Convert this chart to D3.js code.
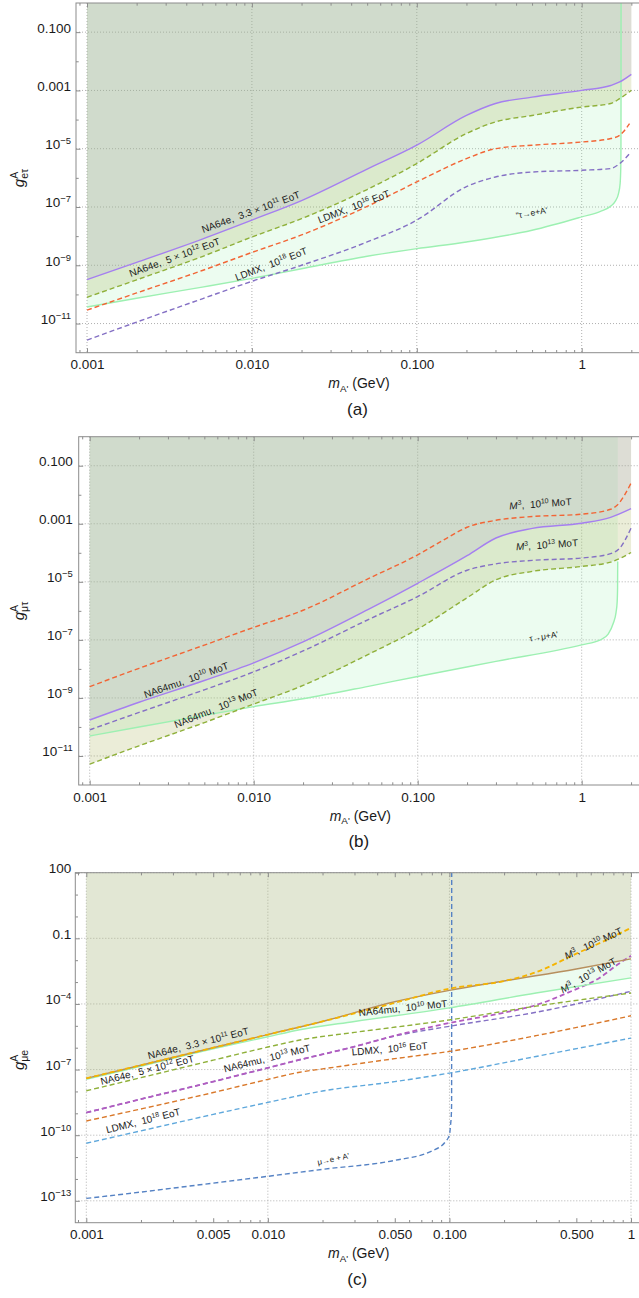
<!DOCTYPE html>
<html>
<head>
<meta charset="utf-8">
<script src="https://cdn.jsdelivr.net/npm/d3@7"></script>
<style>
body { margin: 0; background: #fff; }
svg { display: block; font-family: "Liberation Sans", Arial, sans-serif; }
text { white-space: pre; }
</style>
</head>
<body>
<script>
let W = 639;
let H = 1298;

// every curve: [mass m_A' in GeV, log10 of the coupling]

// panel (a), g_{e tau}
let aNA64e11 = [[0.001,-9.49],[0.002,-8.9],[0.005,-8.1],[0.01,-7.45],[0.02,-6.78],[0.05,-5.7],[0.1,-4.88],[0.2,-3.86],[0.3,-3.45],[0.5,-3.23],[1,-3.0],[1.5,-2.83],[1.7,-2.71],[2,-2.45]];
let aNA64e12 = [[0.001,-10.1],[0.002,-9.5],[0.005,-8.7],[0.01,-8.03],[0.02,-7.4],[0.05,-6.4],[0.1,-5.51],[0.2,-4.48],[0.3,-4.08],[0.5,-3.86],[1,-3.57],[1.5,-3.45],[1.7,-3.28],[2,-3.0]];
let aLDMX16 = [[0.001,-10.54],[0.002,-9.95],[0.005,-9.18],[0.01,-8.56],[0.02,-7.96],[0.05,-6.98],[0.1,-6.14],[0.2,-5.34],[0.3,-5.0],[0.5,-4.88],[1,-4.77],[1.5,-4.65],[1.7,-4.54],[1.95,-4.14]];
let aLDMX18 = [[0.001,-11.57],[0.002,-10.95],[0.005,-10.15],[0.01,-9.55],[0.02,-9.0],[0.05,-8.2],[0.1,-7.45],[0.2,-6.3],[0.3,-5.97],[0.5,-5.8],[1,-5.74],[1.5,-5.68],[1.7,-5.51],[1.95,-5.17]];
let aTauE = [[0.001,-10.43],[0.002,-10.13],[0.005,-9.75],[0.01,-9.45],[0.02,-9.12],[0.05,-8.69],[0.1,-8.43],[0.2,-8.2],[0.5,-7.8],[1,-7.34],[1.3,-7.15],[1.5,-6.97],[1.6,-6.8],[1.67,-6.55],[1.71,-6.2],[1.725,-5.7],[1.73,-5.0],[1.732,-3.0],[1.733,0]];

// panel (b), g_{mu tau}
let bM3_10 = [[0.001,-8.61],[0.002,-7.98],[0.005,-7.18],[0.01,-6.57],[0.02,-5.98],[0.05,-4.89],[0.1,-4.07],[0.15,-3.5],[0.2,-3.12],[0.3,-2.88],[0.5,-2.75],[1,-2.67],[1.5,-2.5],[1.65,-2.35],[2,-1.6]];
let bNA64mu10 = [[0.001,-9.76],[0.002,-9.15],[0.005,-8.4],[0.01,-7.79],[0.02,-7.07],[0.05,-5.95],[0.1,-5.05],[0.2,-4.1],[0.3,-3.49],[0.5,-3.16],[1,-2.98],[1.5,-2.78],[2,-2.48]];
let bM3_13 = [[0.001,-10.1],[0.002,-9.5],[0.005,-8.72],[0.01,-8.1],[0.02,-7.38],[0.05,-6.3],[0.1,-5.51],[0.2,-4.6],[0.3,-4.38],[0.5,-4.26],[1,-4.18],[1.5,-4.03],[1.7,-3.85],[2,-3.15]];
let bNA64mu13 = [[0.001,-11.28],[0.002,-10.65],[0.005,-9.85],[0.01,-9.21],[0.02,-8.57],[0.05,-7.5],[0.1,-6.63],[0.2,-5.55],[0.3,-4.93],[0.5,-4.64],[1,-4.47],[1.5,-4.32],[1.7,-4.2],[2,-3.99]];
let bTauMu = [[0.001,-10.31],[0.002,-10.0],[0.005,-9.6],[0.01,-9.3],[0.02,-9.03],[0.05,-8.6],[0.1,-8.26],[0.3,-7.74],[1,-7.17],[1.3,-7.0],[1.45,-6.8],[1.56,-6.42],[1.62,-6.05],[1.645,-5.7],[1.655,-5.2],[1.658,-4.3]];

// panel (c), g_{mu e}
let cNA64e11 = [[0.001,-7.4],[0.002,-6.8],[0.005,-6.0],[0.01,-5.4],[0.02,-4.8],[0.05,-3.9],[0.1,-3.38],[0.2,-2.95],[0.5,-2.4],[1,-1.94]];
let cM3_10 = [[0.001,-7.4],[0.002,-6.8],[0.005,-6.0],[0.01,-5.4],[0.02,-4.8],[0.05,-3.95],[0.1,-3.3],[0.2,-2.95],[0.3,-2.55],[0.5,-1.7],[0.7,-1.15],[1,-0.52]];
let cNA64mu10 = [[0.001,-7.45],[0.002,-6.85],[0.005,-6.05],[0.01,-5.5],[0.015,-5.18],[0.03,-4.8],[0.1,-4.18],[0.3,-3.5],[1,-2.81]];
let cNA64e12 = [[0.001,-7.97],[0.002,-7.37],[0.005,-6.57],[0.01,-5.97],[0.015,-5.65],[0.03,-5.3],[0.1,-4.73],[0.3,-4.1],[1,-3.5]];
let cM3_13 = [[0.001,-8.97],[0.002,-8.35],[0.005,-7.55],[0.01,-6.92],[0.015,-6.55],[0.03,-5.95],[0.05,-5.45],[0.1,-4.87],[0.2,-4.4],[0.3,-4.05],[0.45,-3.48],[0.67,-2.81],[0.87,-2.12],[1,-1.8]];
let cNA64mu13 = [[0.001,-8.97],[0.002,-8.35],[0.005,-7.55],[0.01,-6.92],[0.015,-6.55],[0.03,-5.95],[0.05,-5.47],[0.1,-5.02],[0.3,-4.38],[1,-3.42]];
let cLDMX16 = [[0.001,-9.35],[0.002,-8.8],[0.005,-8.05],[0.01,-7.45],[0.015,-7.12],[0.02,-6.97],[0.05,-6.5],[0.1,-6.17],[0.3,-5.45],[1,-4.54]];
let cLDMX18 = [[0.001,-10.37],[0.002,-9.8],[0.005,-9.05],[0.01,-8.5],[0.02,-7.98],[0.05,-7.55],[0.1,-7.16],[0.3,-6.4],[1,-5.56]];
let cMuE = [[0.001,-12.89],[0.002,-12.6],[0.005,-12.19],[0.01,-11.88],[0.02,-11.56],[0.05,-11.15],[0.08,-10.72],[0.095,-10.3],[0.1,-9.99],[0.1015,-9.5],[0.1025,-9.0],[0.1028,-8.5],[0.1029,2]];

// tick labels
let xTicksAB = [0.001, 0.01, 0.1, 1];
let xLabelsAB = ["0.001", "0.010", "0.100", "1"];
let xTicksC = [0.001, 0.005, 0.01, 0.05, 0.1, 0.5, 1];
let xLabelsC = ["0.001", "0.005", "0.010", "0.050", "0.100", "0.500", "1"];
let yTicksAB = [-1, -3, -5, -7, -9, -11];
let yLabelsAB = ["0.100", "0.001", "10^{−5}", "10^{−7}", "10^{−9}", "10^{−11}"];
let yTicksC = [2, -1, -4, -7, -10, -13];
let yLabelsC = ["100", "0.1", "10^{−4}", "10^{−7}", "10^{−10}", "10^{−13}"];
let xGrid = [0.001, 0.01, 0.1, 1];

let cMint = "#9df0b2", cPurple = "#a57ff0", cOlive = "#8fb03a", cRed = "#f26535", cBlue = "#8470c4";

let panels = [
  {
    id: "a", left: 76, right: 642, top: 3, bottom: 352.7, x0: 87, x1: 581.7,
    yMax: 1, yMin: 1e-12, yPad: 5, xTicks: xTicksAB, xLabels: xLabelsAB, yTicks: yTicksAB, yLabels: yLabelsAB,
    yTitle: ["e\u03c4"], yTitleY: 178, letter: "(a)",
    fills: [
      { data: aTauE, color: "rgba(160,240,180,0.2)" },
      { data: aNA64e12, color: "rgba(156,167,60,0.2)" },
      { data: aNA64e11, color: "rgba(165,160,204,0.2)" }
    ],
    curves: [
      { data: aTauE, color: cMint },
      { data: aNA64e11, color: cPurple },
      { data: aNA64e12, color: cOlive, dash: true },
      { data: aLDMX16, color: cRed, dash: true },
      { data: aLDMX18, color: cBlue, dash: true }
    ],
    labels: [
      { text: "NA64e,  3.3 \u00d7 10^{11} EoT", m: 0.01, g: -7.28, rot: -20 },
      { text: "NA64e,  5 \u00d7 10^{12} EoT", m: 0.00345, g: -8.84, rot: -20 },
      { text: "LDMX,  10^{16} EoT", m: 0.0422, g: -7.1, rot: -21 },
      { text: "LDMX,  10^{18} EoT", m: 0.0133, g: -9.07, rot: -21 },
      { text: "\"\u03c4\u2192e+A'", m: 0.5, g: -7.3, rot: -10, size: 8.5 }
    ]
  },
  {
    id: "b", left: 78.7, right: 642, top: 436.7, bottom: 785, x0: 89.7, x1: 581.7,
    yMax: 1, yMin: 1e-12, yPad: 6, xTicks: xTicksAB, xLabels: xLabelsAB, yTicks: yTicksAB, yLabels: yLabelsAB,
    yTitle: ["\u03bc\u03c4"], yTitleY: 611, letter: "(b)",
    fills: [
      { data: bTauMu, color: "rgba(160,240,180,0.2)" },
      { data: bNA64mu13, color: "rgba(156,167,60,0.2)" },
      { data: bNA64mu10, color: "rgba(165,160,204,0.2)" }
    ],
    curves: [
      { data: bTauMu, color: cMint },
      { data: bM3_10, color: cRed, dash: true },
      { data: bNA64mu10, color: cPurple },
      { data: bM3_13, color: cBlue, dash: true },
      { data: bNA64mu13, color: cOlive, dash: true }
    ],
    labels: [
      { text: "~M~^{3},  10^{10} MoT", m: 0.562, g: -2.43, rot: -4 },
      { text: "~M~^{3},  10^{13} MoT", m: 0.616, g: -3.84, rot: -4 },
      { text: "NA64mu,  10^{10} MoT", m: 0.00394, g: -8.5, rot: -19.5 },
      { text: "NA64mu,  10^{13} MoT", m: 0.006, g: -9.47, rot: -22 },
      { text: "\u03c4\u2192\u03bc+A'", m: 0.589, g: -6.98, rot: -9, size: 8.5 }
    ]
  },
  {
    id: "c", left: 75.3, right: 642, top: 872.7, bottom: 1222.7, x0: 86.3, x1: 631,
    yMax: 100, yMin: 1e-14, yPad: 4, xTicks: xTicksC, xLabels: xLabelsC, yTicks: yTicksC, yLabels: yLabelsC,
    yTitle: ["\u03bce"], yTitleY: 1060, letter: "(c)",
    fills: [
      { data: cNA64mu10, color: "rgba(160,240,180,0.2)" },
      { data: cNA64e11, color: "rgba(191,152,100,0.2)" }
    ],
    curves: [
      { data: cMuE, color: "#5582c4", dash: true },
      { data: cLDMX18, color: "#5fa8dc", dash: true },
      { data: cLDMX16, color: "#d9782a", dash: true },
      { data: cNA64mu13, color: cBlue, dash: true },
      { data: cM3_13, color: "#b25cc0", dash: true, w: 1.8 },
      { data: cNA64e12, color: cOlive, dash: true },
      { data: cNA64mu10, color: cMint },
      { data: cNA64e11, color: "#b78f5e" },
      { data: cM3_10, color: "#f5b400", dash: true, w: 1.8 }
    ],
    labels: [
      { text: "NA64e,  3.3 \u00d7 10^{11} EoT", m: 0.00418, g: -5.95, rot: -14 },
      { text: "NA64e,  5 \u00d7 10^{12} EoT", m: 0.00219, g: -7.17, rot: -14 },
      { text: "NA64mu,  10^{13} MoT", m: 0.01, g: -6.64, rot: -14 },
      { text: "LDMX,  10^{18} EoT", m: 0.00208, g: -9.49, rot: -14 },
      { text: "LDMX,  10^{16} EoT", m: 0.047, g: -6.21, rot: -5 },
      { text: "NA64mu,  10^{10} MoT", m: 0.0557, g: -4.35, rot: -6 },
      { text: "~M~^{3},  10^{10} MoT", m: 0.632, g: -1.38, rot: -25 },
      { text: "~M~^{3},  10^{13} MoT", m: 0.594, g: -2.83, rot: -29 },
      { text: "\u03bc\u2192e + A'", m: 0.0231, g: -11.21, rot: -12, size: 8 }
    ]
  }
];

let svg = d3.select("body")
  .append("svg")
  .attr("width", W)
  .attr("height", H);

// text with ^{sup}, _{sub} and ~italic~ parts
function richText(sel, str, fs) {
  let parts = str.split(/(\^\{[^}]*\}|_\{[^}]*\}|~[^~]*~)/).filter((s) => s.length);
  let shift = 0;
  parts.forEach((s) => {
    let txt = s, size = fs, target = 0, italic = false;
    if (s.startsWith("^{")) { txt = s.slice(2, -1); size = fs * 0.7; target = -0.38 * fs; }
    else if (s.startsWith("_{")) { txt = s.slice(2, -1); size = fs * 0.7; target = 0.28 * fs; }
    else if (s.startsWith("~")) { txt = s.slice(1, -1); italic = true; }
    let t = sel.append("tspan").attr("font-size", size).attr("dy", target - shift).text(txt);
    if (italic) t.attr("font-style", "italic");
    shift = target;
  });
}

function drawPanel(p) {
  let g = svg.append("g");
  let x = d3.scaleLog().domain([0.001, 1]).range([p.x0, p.x1]);
  let y = d3.scaleLog().domain([p.yMax, p.yMin]).range([p.top, p.bottom]);
  let Y = (e) => y(Math.pow(10, e));

  g.append("clipPath")
    .attr("id", "clip-" + p.id)
    .append("rect")
    .attr("x", p.left)
    .attr("y", p.top)
    .attr("width", p.right - p.left)
    .attr("height", p.bottom - p.top);

  // dotted grid
  let grid = g.append("g")
    .attr("stroke", "#b0b0b0")
    .attr("stroke-dasharray", "1,2");
  xGrid.forEach((v) => {
    grid.append("line").attr("x1", x(v)).attr("x2", x(v)).attr("y1", p.top).attr("y2", p.bottom);
  });
  p.yTicks.forEach((e) => {
    grid.append("line").attr("x1", p.left).attr("x2", p.right).attr("y1", Y(e)).attr("y2", Y(e));
  });

  let plot = g.append("g").attr("clip-path", "url(#clip-" + p.id + ")");
  let line = d3.line()
    .x((d) => x(d[0]))
    .y((d) => Y(d[1]))
    .curve(d3.curveMonotoneX);
  let area = d3.area()
    .x((d) => x(d[0]))
    .y0(p.top)
    .y1((d) => Y(d[1]))
    .curve(d3.curveMonotoneX);

  p.fills.forEach((f) => {
    plot.append("path").attr("d", area(f.data)).attr("fill", f.color);
  });
  p.curves.forEach((c) => {
    plot.append("path")
      .attr("d", line(c.data))
      .attr("fill", "none")
      .attr("stroke", c.color)
      .attr("stroke-width", c.w || 1.4)
      .attr("stroke-dasharray", c.dash ? "5,3" : null);
  });

  // frame
  g.append("rect")
    .attr("x", p.left)
    .attr("y", p.top)
    .attr("width", p.right - p.left)
    .attr("height", p.bottom - p.top)
    .attr("fill", "none")
    .attr("stroke", "#8c8c8c");

  // minor ticks
  let xMinor = [];
  for (let k = -4; k <= 0; k++) {
    for (let m = 1; m <= 9; m++) {
      let v = m * Math.pow(10, k);
      let px = x(v);
      if (px > p.left + 1 && px < p.right - 1 && !p.xTicks.some((t) => Math.abs(t - v) < v * 1e-6)) xMinor.push(v);
    }
  }
  let yMinor = [];
  let eTop = Math.round(Math.log10(p.yMax)), eBot = Math.round(Math.log10(p.yMin));
  for (let e = eBot + 1; e < eTop; e++) {
    if (p.yTicks.indexOf(e) < 0) yMinor.push(Math.pow(10, e));
  }

  let axStyle = (sel) => {
    sel.attr("font-size", 13.5).attr("font-family", null).style("color", "#8c8c8c");
    sel.select(".domain").remove();
    sel.selectAll(".tick text").attr("fill", "#1a1a1a");
  };

  g.append("g")
    .attr("transform", "translate(0," + p.bottom + ")")
    .call(d3.axisBottom(x).tickValues(p.xTicks).tickSize(-4.5).tickPadding(7).tickFormat((d, i) => p.xLabels[i]))
    .call(axStyle);
  g.append("g")
    .attr("transform", "translate(0," + p.bottom + ")")
    .call(d3.axisBottom(x).tickValues(xMinor).tickSize(-2.7).tickFormat(""))
    .call(axStyle);
  g.append("g")
    .attr("transform", "translate(0," + p.top + ")")
    .call(d3.axisTop(x).tickValues(p.xTicks).tickSize(-4.5).tickFormat(""))
    .call(axStyle);
  g.append("g")
    .attr("transform", "translate(0," + p.top + ")")
    .call(d3.axisTop(x).tickValues(xMinor).tickSize(-2.7).tickFormat(""))
    .call(axStyle);

  let yAx = g.append("g")
    .attr("transform", "translate(" + p.left + ",0)")
    .call(d3.axisLeft(y).tickValues(p.yTicks.map((e) => Math.pow(10, e))).tickSize(-4.5).tickPadding(p.yPad).tickFormat(""))
    .call(axStyle);
  yAx.selectAll(".tick text").each(function (d, i) {
    richText(d3.select(this), p.yLabels[i], 13.5);
  });
  g.append("g")
    .attr("transform", "translate(" + p.left + ",0)")
    .call(d3.axisLeft(y).tickValues(yMinor).tickSize(-2.7).tickFormat(""))
    .call(axStyle);

  // curve labels
  p.labels.forEach((l) => {
    let fs = l.size || 10;
    let t = g.append("text")
      .attr("transform", "translate(" + x(l.m) + "," + Y(l.g) + ") rotate(" + l.rot + ")")
      .attr("text-anchor", "middle")
      .attr("dy", "0.35em")
      .attr("fill", "#1a1a1a")
      .attr("font-size", fs);
    richText(t, l.text, fs);
  });

  // axis titles
  let cx = (p.left + p.right) / 2;
  let xt = g.append("text")
    .attr("x", cx)
    .attr("y", p.bottom + 35.5)
    .attr("text-anchor", "middle")
    .attr("fill", "#1a1a1a")
    .attr("font-size", 14);
  richText(xt, "~m~_{A'} (GeV)", 14);

  g.append("text")
    .attr("x", cx - 1.5)
    .attr("y", p.bottom + 62)
    .attr("text-anchor", "middle")
    .attr("fill", "#1a1a1a")
    .attr("font-size", 17)
    .text(p.letter);

  let yt = g.append("text")
    .attr("transform", "translate(24," + p.yTitleY + ") rotate(-90)")
    .attr("text-anchor", "middle")
    .attr("fill", "#1a1a1a")
    .attr("font-size", 15);
  yt.append("tspan").attr("font-style", "italic").text("g");
  let sup = yt.append("tspan").attr("font-size", 10.5).attr("dy", -6).text("A");
  let sub = yt.append("tspan").attr("font-size", 10.5).attr("dy", 10).text(p.yTitle[0]);
  sub.attr("dx", -sup.node().getComputedTextLength());
}

panels.forEach(drawPanel);
</script>
</body>
</html>
